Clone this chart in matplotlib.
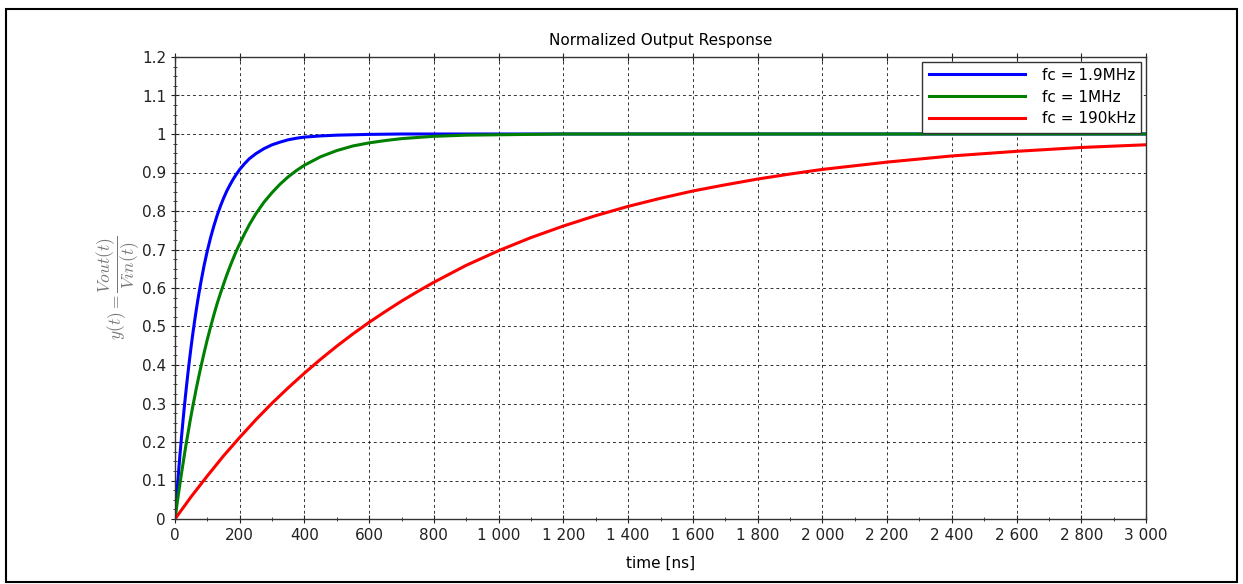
import matplotlib.pyplot as plt
import matplotlib.ticker as mticker
from matplotlib.patches import Rectangle

# values (time in ns, normalized output)
t_blue = [0, 5, 10, 15, 20, 25, 30, 35, 40, 45, 50, 55, 60, 65, 70, 75, 80, 90, 100, 110, 120, 130, 140, 150, 160, 170, 180, 190, 200,
          215, 230, 250, 275, 300, 325, 350, 375, 400, 450, 500, 550, 600, 700, 3000]
y_blue = [0, 0.058, 0.112, 0.164, 0.212, 0.258, 0.301, 0.341, 0.379, 0.415, 0.449, 0.481, 0.511, 0.539, 0.566, 0.591, 0.615, 0.659,
          0.697, 0.731, 0.761, 0.788, 0.812, 0.833, 0.852, 0.868, 0.883, 0.896, 0.908, 0.923, 0.936, 0.949, 0.962, 0.972, 0.979,
          0.985, 0.989, 0.992, 0.995, 0.997, 0.998, 0.999, 1.0, 1.0]

t_green = [0, 5, 10, 15, 20, 25, 30, 35, 40, 45, 50, 55, 60, 65, 70, 75, 80, 90, 100, 110, 120, 130, 140, 150, 160, 170, 180, 190, 200,
           215, 230, 250, 275, 300, 325, 350, 375, 400, 450, 500, 550, 600, 650, 700, 800, 900, 1000, 1200, 3000]
y_green = [0, 0.031, 0.061, 0.090, 0.118, 0.145, 0.172, 0.198, 0.222, 0.247, 0.270, 0.293, 0.314, 0.336, 0.356, 0.376, 0.395, 0.432,
           0.467, 0.499, 0.530, 0.559, 0.585, 0.610, 0.634, 0.656, 0.677, 0.697, 0.715, 0.741, 0.765, 0.793, 0.823, 0.848, 0.870,
           0.889, 0.905, 0.919, 0.941, 0.957, 0.969, 0.977, 0.983, 0.988, 0.994, 0.997, 0.998, 1.0, 1.0]

t_red = [0, 50, 100, 150, 200, 250, 300, 350, 400, 450, 500, 550, 600, 650, 700, 750, 800, 900, 1000, 1100, 1200, 1300, 1400, 1500,
         1600, 1700, 1800, 1900, 2000, 2200, 2400, 2600, 2800, 3000]
y_red = [0, 0.058, 0.112, 0.164, 0.212, 0.258, 0.301, 0.341, 0.379, 0.415, 0.449, 0.481, 0.511, 0.539, 0.566, 0.591, 0.615, 0.659,
         0.697, 0.731, 0.761, 0.788, 0.812, 0.833, 0.852, 0.868, 0.883, 0.896, 0.908, 0.927, 0.943, 0.955, 0.965, 0.972]

labels = ['fc = 1.9MHz', 'fc = 1MHz', 'fc = 190kHz']
colors = ['#0000ff', '#008000', '#ff0000']

plt.rcParams['font.family'] = 'DejaVu Sans'
plt.rcParams['mathtext.fontset'] = 'cm'

fig = plt.figure(figsize=(12.43, 5.84), dpi=100)
ax = fig.add_axes([175 / 1243, 1 - 519 / 584, (1146 - 175) / 1243, (519 - 57) / 584])

# outer black frame
fig.patches.append(Rectangle((6 / 1243, 2 / 584), 1231 / 1243, 573 / 584, transform=fig.transFigure,
                             fill=False, edgecolor='black', linewidth=1.5))

for t, y, c, lab in zip([t_blue, t_green, t_red], [y_blue, y_green, y_red], colors, labels):
    ax.plot(t, y, color=c, linewidth=2.2, label=lab)

ax.set_xlim(0, 3000)
ax.set_ylim(0, 1.2)
ax.xaxis.set_major_locator(mticker.MultipleLocator(200))
ax.xaxis.set_minor_locator(mticker.MultipleLocator(100))
ax.yaxis.set_major_locator(mticker.MultipleLocator(0.1))
ax.yaxis.set_minor_locator(mticker.MultipleLocator(0.025))

def xfmt(v, pos):
    return f'{int(round(v)):,}'.replace(',', ' ')

def yfmt(v, pos):
    s = f'{v:.1f}'
    return s[:-2] if s.endswith('.0') else s

ax.xaxis.set_major_formatter(mticker.FuncFormatter(xfmt))
ax.yaxis.set_major_formatter(mticker.FuncFormatter(yfmt))

ax.grid(True, which='major', color='black', linestyle=(0, (3, 3)), linewidth=0.7, alpha=0.8)
ax.tick_params(which='both', direction='inout', right=False, labelsize=11, colors='#222222')
ax.tick_params(which='minor', top=False)
ax.tick_params(which='major', top=True, length=6)
ax.tick_params(which='minor', length=3)
for s in ax.spines.values():
    s.set_color('#333333')
    s.set_linewidth(1.0)

ax.set_title('Normalized Output Response', fontsize=11, pad=9)
ax.set_xlabel('time [ns]', fontsize=11, labelpad=9)
ax.set_ylabel(r'$y(t) = \dfrac{Vout(t)}{Vin(t)}$', fontsize=12.5, color='#777777', labelpad=0)

leg = ax.legend(loc='upper right', fontsize=11, handlelength=6.3, frameon=True, fancybox=False,
                borderaxespad=0.3, labelspacing=0.45, handletextpad=1.1, borderpad=0.4)
leg.get_frame().set_edgecolor('#333333')
leg.get_frame().set_linewidth(1.0)
leg.get_frame().set_alpha(1.0)

fig.savefig('out.png', dpi=100)
